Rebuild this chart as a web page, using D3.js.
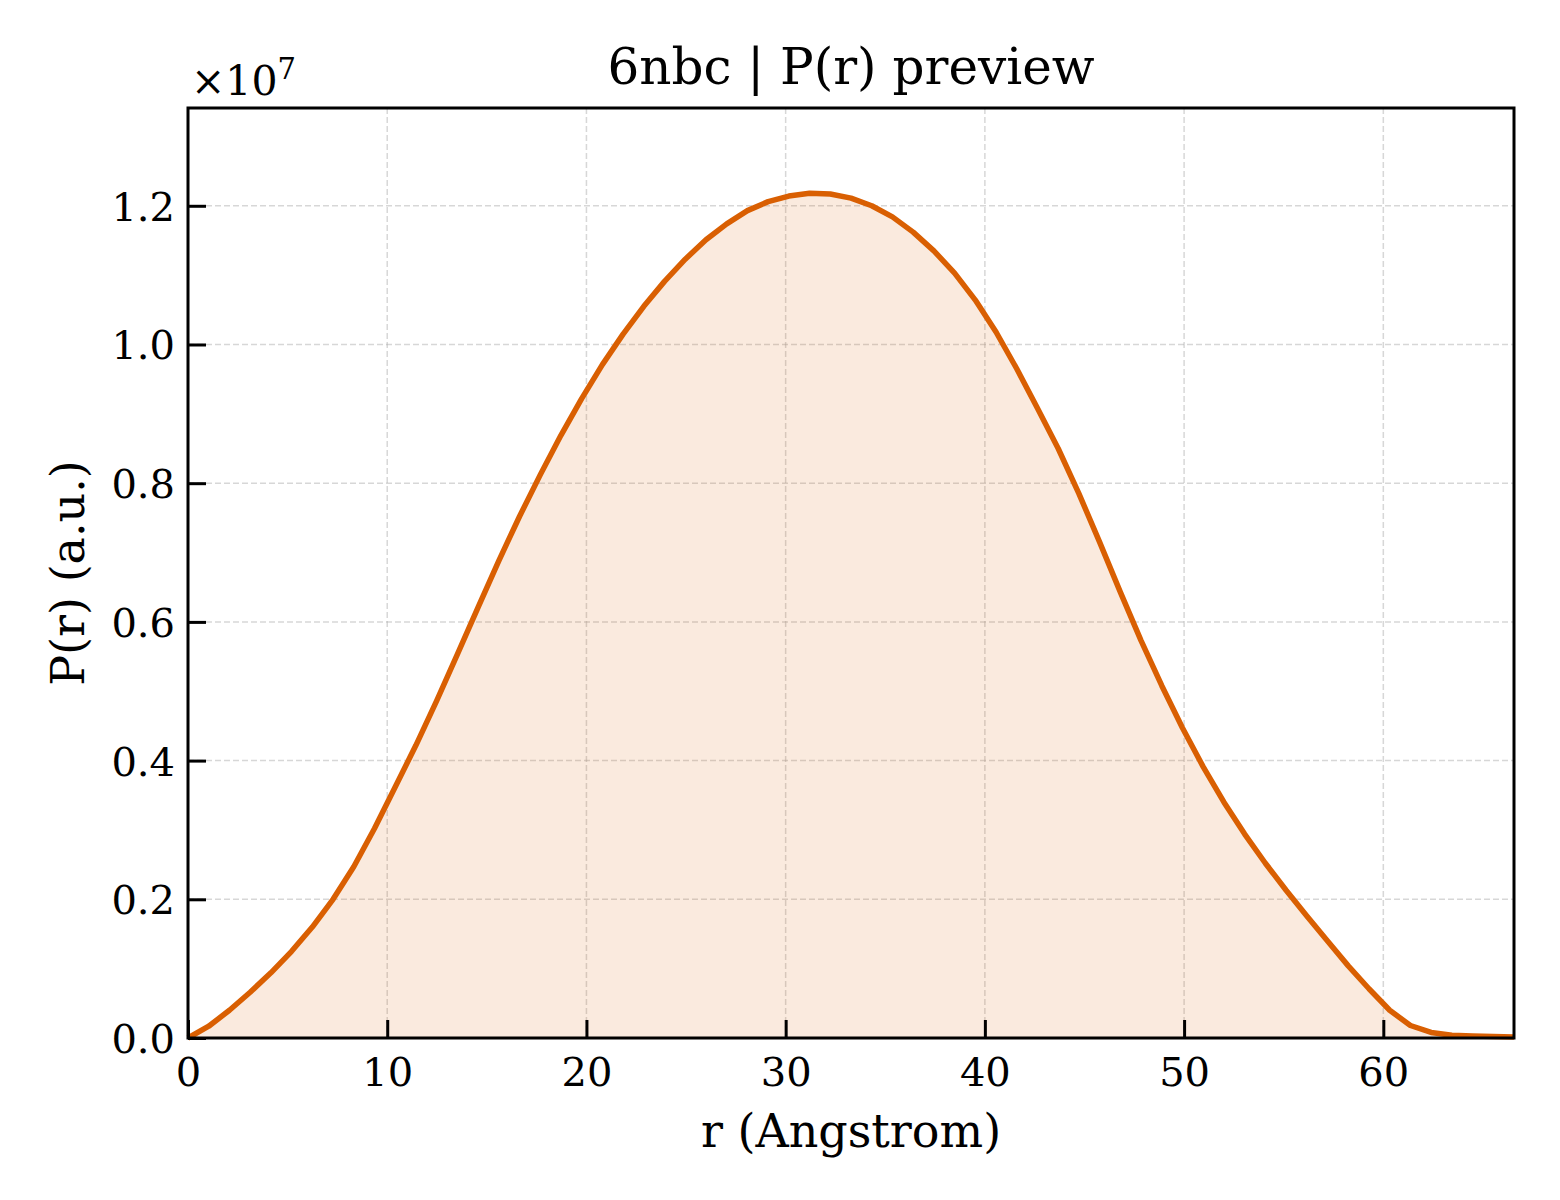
<!DOCTYPE html>
<html>
  <head>
    <meta charset="utf-8">
    <style>
      body { margin: 0; background: #fff; }
      text { font-family: "DejaVu Serif", serif; fill: #000; }
    </style>
  </head>
  <body>
    <script src="https://d3js.org/d3.v7.min.js"></script>
    <script>
      // P(r) curve, r in Angstrom, P in units of 1e7
      var r = [0, 1.04, 2.08, 3.12, 4.16, 5.2, 6.24, 7.28, 8.32, 9.36,
               10.4, 11.44, 12.48, 13.52, 14.56, 15.6, 16.64, 17.68, 18.72, 19.76,
               20.8, 21.84, 22.88, 23.92, 24.96, 26.0, 27.04, 28.08, 29.12, 30.16,
               31.2, 32.24, 33.28, 34.32, 35.36, 36.4, 37.44, 38.48, 39.52, 40.56,
               41.6, 42.64, 43.68, 44.72, 45.76, 46.8, 47.84, 48.88, 49.92, 50.96,
               52.0, 53.04, 54.08, 55.12, 56.16, 57.2, 58.24, 59.28, 60.32, 61.36,
               62.4, 63.44, 64.48, 65.52, 66.56];
      var pr = [0, 0.017, 0.040, 0.066, 0.094, 0.125, 0.160, 0.200, 0.247, 0.302,
                0.362, 0.422, 0.486, 0.553, 0.621, 0.688, 0.752, 0.812, 0.869, 0.922,
                0.971, 1.015, 1.055, 1.091, 1.123, 1.151, 1.174, 1.193, 1.206, 1.214,
                1.218, 1.217, 1.211, 1.200, 1.184, 1.162, 1.135, 1.103, 1.064, 1.018,
                0.965, 0.908, 0.850, 0.785, 0.715, 0.643, 0.573, 0.508, 0.447, 0.391,
                0.340, 0.294, 0.252, 0.213, 0.176, 0.140, 0.104, 0.071, 0.040, 0.018,
                0.008, 0.004, 0.003, 0.002, 0.0015];
      var xTicks = [0, 10, 20, 30, 40, 50, 60];
      var yTicks = [0, 0.2, 0.4, 0.6, 0.8, 1.0, 1.2];

      var W = 1560, H = 1200;
      var pL = 188, pR = 1514, pT = 108, pB = 1038;   // plot box
      var lineColor = "#d95f02";

      var svg = d3.select("body").append("svg")
        .attr("width", W).attr("height", H);

      var x = d3.scaleLinear().domain([0, 66.56]).range([pL, pR]);
      var y = d3.scaleLinear().domain([0, 1.341]).range([pB, pT]);

      var data = r.map(function(d, i){ return [d, pr[i]]; });

      // grid
      var grid = svg.append("g");
      grid.selectAll(".gx").data(xTicks.slice(1)).enter().append("line")
        .attr("x1", function(d){ return x(d); }).attr("x2", function(d){ return x(d); })
        .attr("y1", pT).attr("y2", pB);
      grid.selectAll(".gy").data(yTicks.slice(1)).enter().append("line")
        .attr("y1", function(d){ return y(d); }).attr("y2", function(d){ return y(d); })
        .attr("x1", pL).attr("x2", pR);
      grid.selectAll("line")
        .style("stroke", "#b0b0b0").style("stroke-opacity", 0.5)
        .style("stroke-width", 1.5).style("stroke-dasharray", "6,3");

      // fill + line
      svg.append("path").datum(data)
        .attr("d", d3.area().x(function(d){ return x(d[0]); }).y0(y(0)).y1(function(d){ return y(d[1]); }))
        .style("fill", lineColor).style("fill-opacity", 0.13);
      svg.append("path").datum(data)
        .attr("d", d3.line().x(function(d){ return x(d[0]); }).y(function(d){ return y(d[1]); }))
        .style("fill", "none").style("stroke", lineColor)
        .style("stroke-width", 5.5).style("stroke-linejoin", "round");

      // axes, ticks pointing in
      var xAxis = svg.append("g").attr("transform", "translate(0," + pB + ")")
        .call(d3.axisBottom(x).tickValues(xTicks).tickSize(-18).tickPadding(20)
          .tickFormat(d3.format("d")));
      var yAxis = svg.append("g").attr("transform", "translate(" + pL + ",0)")
        .call(d3.axisLeft(y).tickValues(yTicks).tickSize(-18).tickPadding(13)
          .tickFormat(d3.format(".1f")));
      [xAxis, yAxis].forEach(function(a){
        a.select(".domain").remove();
        a.selectAll(".tick line").style("stroke", "#000").style("stroke-width", 3);
        a.selectAll(".tick text").style("font-family", "DejaVu Serif")
          .style("font-size", "40px").style("fill", "#000");
      });
      yAxis.selectAll(".tick text").attr("dy", "0.36em");

      // frame
      svg.append("rect")
        .attr("x", pL).attr("y", pT)
        .attr("width", pR - pL).attr("height", pB - pT)
        .style("fill", "none").style("stroke", "#000").style("stroke-width", 3);

      // labels
      svg.append("text").attr("x", (pL + pR) / 2).attr("y", 84)
        .attr("text-anchor", "middle").style("font-size", "50px")
        .text("6nbc | P(r) preview");
      svg.append("text").attr("x", (pL + pR) / 2).attr("y", 1147)
        .attr("text-anchor", "middle").style("font-size", "46px")
        .text("r (Angstrom)");
      svg.append("text")
        .attr("transform", "translate(84," + (pT + pB) / 2 + ") rotate(-90)")
        .attr("text-anchor", "middle").style("font-size", "46px")
        .text("P(r) (a.u.)");
      var off = svg.append("text").attr("x", 191).attr("y", 95).style("font-size", "41px");
      off.append("tspan").text("\u00d710");
      off.append("tspan").attr("dy", -16).style("font-size", "29px").text("7");
    </script>
  </body>
</html>
